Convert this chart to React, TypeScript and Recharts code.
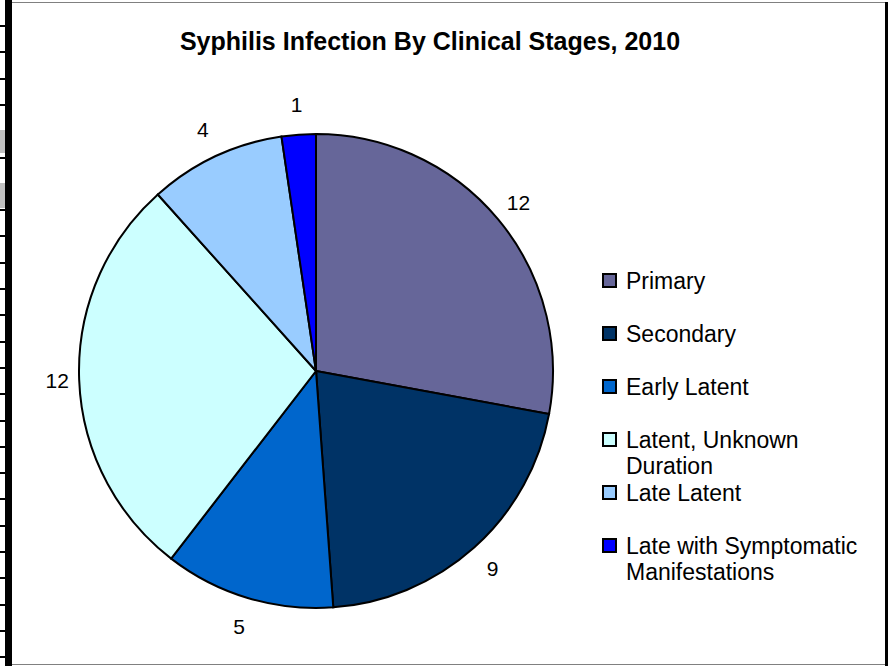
import React from 'react';
import { PieChart, Pie, Cell, Legend } from 'recharts';

const categories = [
  'Primary',
  'Secondary',
  'Early Latent',
  'Latent, Unknown Duration',
  'Late Latent',
  'Late with Symptomatic Manifestations',
];
const cases = [12, 9, 5, 12, 4, 1];
const colors = ['#666699', '#003366', '#0066CC', '#CCFFFF', '#99CCFF', '#0000FF'];

const data = categories.map((name, i) => ({ name, value: cases[i] }));

const FONT = '"Liberation Sans", Arial, Helvetica, sans-serif';
const RADIAN = Math.PI / 180;

const renderLabel = (props: any) => {
  const { cx, cy, midAngle, value } = props;
  const c = Math.cos(-midAngle * RADIAN);
  const s = Math.sin(-midAngle * RADIAN);
  // labels sit a little closer on the sides, like Excel's outside-end labels
  const r = 267 - 8 * Math.pow(Math.abs(c), 3);
  return (
    <text x={cx + r * c} y={cy + r * s} fill="#000" fontSize={21} fontFamily={FONT} textAnchor="middle" dominantBaseline="central">
      {value}
    </text>
  );
};

const renderLegend = () => (
  <div style={{ fontFamily: FONT, fontSize: 23, lineHeight: '26px', color: '#000' }}>
    {categories.map((name, i) => (
      <div key={name} style={{ position: 'relative', height: 53 }}>
        <div
          style={{
            position: 'absolute',
            left: 0,
            top: 5,
            width: 11,
            height: 11,
            background: colors[i],
            border: '2px solid #000',
          }}
        />
        <div style={{ marginLeft: 24, width: 250 }}>{name}</div>
      </div>
    ))}
  </div>
);

// spreadsheet row lines peeking out at the left edge
const rowLines = Array.from({ length: 25 }, (_, i) => 25 + i * 26.3);

export default function App() {
  return (
    <div style={{ position: 'absolute', left: 0, top: 0, width: 888, height: 666, background: '#fff', overflow: 'hidden' }}>
      {rowLines.map((y) => (
        <div key={y} style={{ position: 'absolute', left: 0, top: Math.round(y), width: 6, height: 2, background: '#000' }} />
      ))}
      <div style={{ position: 'absolute', left: 0, top: 130, width: 5, height: 23, background: '#c0c0c0' }} />
      <div style={{ position: 'absolute', left: 0, top: 183, width: 5, height: 25, background: '#c0c0c0' }} />
      <div style={{ position: 'absolute', left: 5, top: 0, width: 7, height: 666, background: '#000' }} />
      <div style={{ position: 'absolute', left: 12, top: 2, width: 873, height: 1, background: '#808080' }} />
      <div style={{ position: 'absolute', left: 12, top: 664, width: 873, height: 1, background: '#808080' }} />
      <div style={{ position: 'absolute', left: 885, top: 2, width: 3, height: 664, background: '#000' }} />
      <div
        style={{
          position: 'absolute',
          left: 0,
          top: 27,
          width: 860,
          textAlign: 'center',
          fontFamily: FONT,
          fontWeight: 'bold',
          fontSize: 25,
          color: '#000',
        }}
      >
        Syphilis Infection By Clinical Stages, 2010
      </div>
      <div style={{ position: 'absolute', left: 0, top: 0 }}>
        <PieChart width={888} height={666} margin={{ top: 0, right: 0, bottom: 0, left: 0 }}>
          <Pie
            data={data}
            dataKey="value"
            nameKey="name"
            cx={316}
            cy={371}
            outerRadius={237}
            startAngle={90}
            endAngle={-270}
            stroke="#000"
            strokeWidth={2}
            label={renderLabel}
            labelLine={false}
            isAnimationActive={false}
          >
            {data.map((d, i) => (
              <Cell key={d.name} fill={colors[i]} />
            ))}
          </Pie>
          <Legend
            content={renderLegend}
            wrapperStyle={{ position: 'absolute', left: 602, top: 268, width: 280 }}
          />
        </PieChart>
      </div>
    </div>
  );
}
